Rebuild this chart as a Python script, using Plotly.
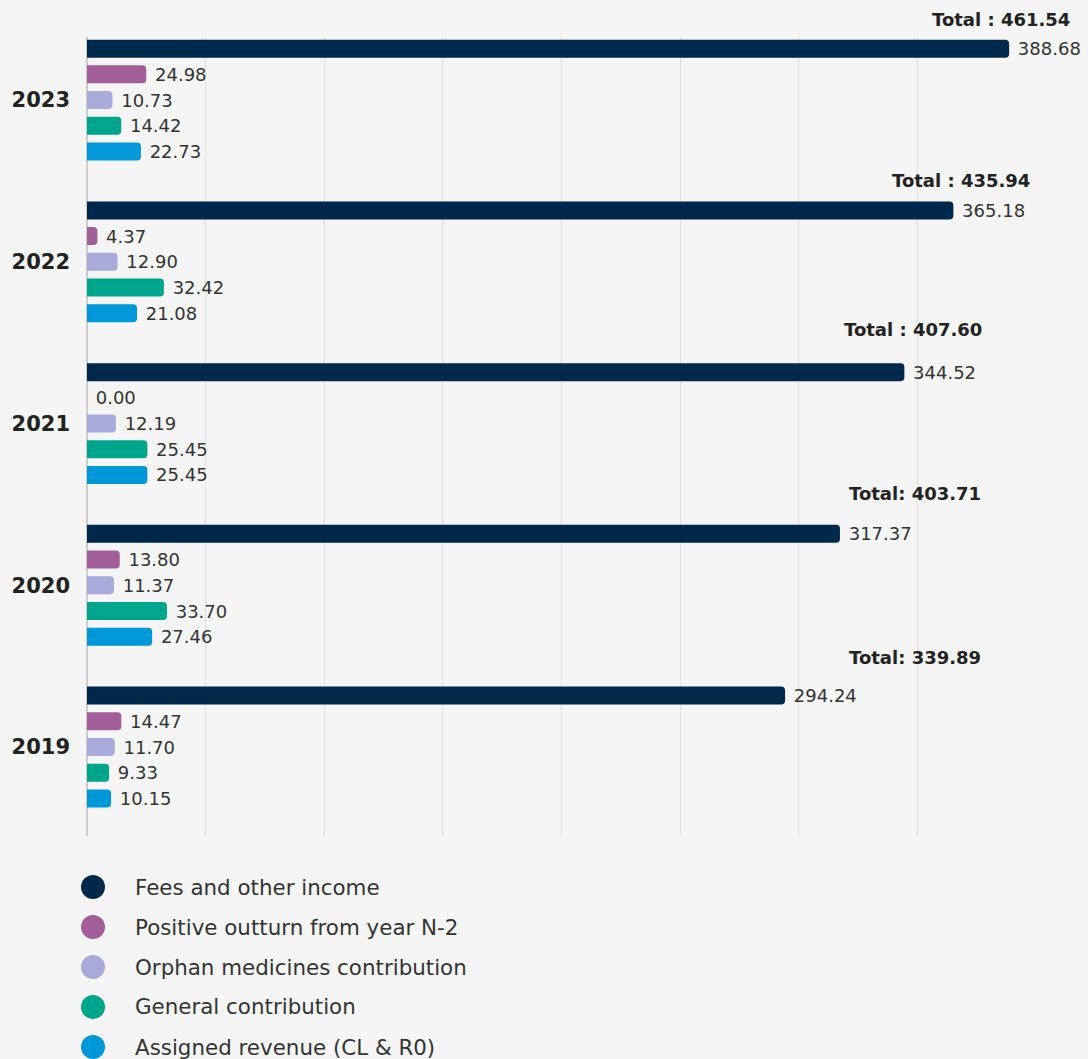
import plotly.graph_objects as go

# Revenue breakdown by year (EUR million)
years = ["2023", "2022", "2021", "2020", "2019"]
series_names = [
    "Fees and other income",
    "Positive outturn from year N-2",
    "Orphan medicines contribution",
    "General contribution",
    "Assigned revenue (CL & R0)",
]
fees_income = [388.68, 365.18, 344.52, 317.37, 294.24]
positive_outturn = [24.98, 4.37, 0.00, 13.80, 14.47]
orphan_contribution = [10.73, 12.90, 12.19, 11.37, 11.70]
general_contribution = [14.42, 32.42, 25.45, 33.70, 9.33]
assigned_revenue = [22.73, 21.08, 25.45, 27.46, 10.15]
total_labels = ["Total : 461.54", "Total : 435.94", "Total : 407.60",
                "Total: 403.71", "Total: 339.89"]
grid_ticks = [0, 50, 100, 150, 200, 250, 300, 350]

series_values = [fees_income, positive_outturn, orphan_contribution,
                 general_contribution, assigned_revenue]
colors = ["#00284b", "#a15e99", "#a8abd9", "#00a68b", "#0098d8"]

W, H = 1088, 1059
PL, PR, PT, PB = 87, 1036, 37, 836  # plot area edges in pixels


def fx(px):
    return (px - PL) / (PR - PL)


def fy(py):
    return (PB - py) / (PB - PT)


FONT = "DejaVu Sans, Verdana, sans-serif"
TEXT = "#333333"
NBSP = "\u00a0"

fig = go.Figure()
for name, vals, col in zip(series_names, series_values, colors):
    fig.add_trace(go.Bar(
        y=years, x=vals, name=name, orientation="h",
        marker=dict(color=col, line=dict(width=0)),
        text=[f"{NBSP}{v:.2f}" for v in vals],
        textposition="outside", cliponaxis=False, constraintext="none",
        textfont=dict(family=FONT, size=18, color=TEXT),
        showlegend=False,
    ))

# Total labels above each year group (right edge x, centre y in pixels)
total_pos = [(1072, 19), (1032, 180), (984, 329), (983, 493), (983, 657)]
annotations = []
for label, (rx, cy) in zip(total_labels, total_pos):
    annotations.append(dict(
        text=label, xref="paper", yref="paper", x=fx(rx), y=fy(cy),
        xanchor="right", yanchor="middle", showarrow=False,
        font=dict(family=FONT, size=18, color="#222222", weight="bold"),
    ))

# Custom legend with round markers
shapes = []
for i, (name, col) in enumerate(zip(series_names, colors)):
    cy = 887 + 40 * i
    shapes.append(dict(
        type="circle", xref="paper", yref="paper",
        xsizemode="pixel", ysizemode="pixel",
        xanchor=fx(93), yanchor=fy(cy),
        x0=-12, x1=12, y0=-12, y1=12,
        fillcolor=col, line=dict(width=0),
    ))
    annotations.append(dict(
        text=name, xref="paper", yref="paper", x=fx(133), y=fy(cy),
        xanchor="left", yanchor="middle", showarrow=False,
        font=dict(family=FONT, size=21.4, color=TEXT),
    ))

fig.update_layout(
    width=W, height=H,
    margin=dict(l=PL, r=W - PR, t=PT, b=H - PB, autoexpand=False),
    paper_bgcolor="#f5f5f5", plot_bgcolor="#f5f5f5",
    barmode="group", bargap=0.205, bargroupgap=0.30,
    barcornerradius=4,
    font=dict(family=FONT, color=TEXT),
    xaxis=dict(
        range=[0, 400], tickmode="array", tickvals=grid_ticks,
        showticklabels=False, showgrid=True, gridcolor="#e0e0e0", gridwidth=1,
        zeroline=True, zerolinecolor="#cccccc", zerolinewidth=2,
        showline=False, fixedrange=True,
    ),
    yaxis=dict(
        type="category", categoryorder="array", categoryarray=years,
        range=[4.55, -0.39], showgrid=False, zeroline=False, showline=False,
        ticks="", ticklabelstandoff=16,
        tickfont=dict(family=FONT, size=21, color="#222222", weight="bold"),
        automargin=False,
    ),
    annotations=annotations,
    shapes=shapes,
    showlegend=False,
)

fig.write_html("out.html")
